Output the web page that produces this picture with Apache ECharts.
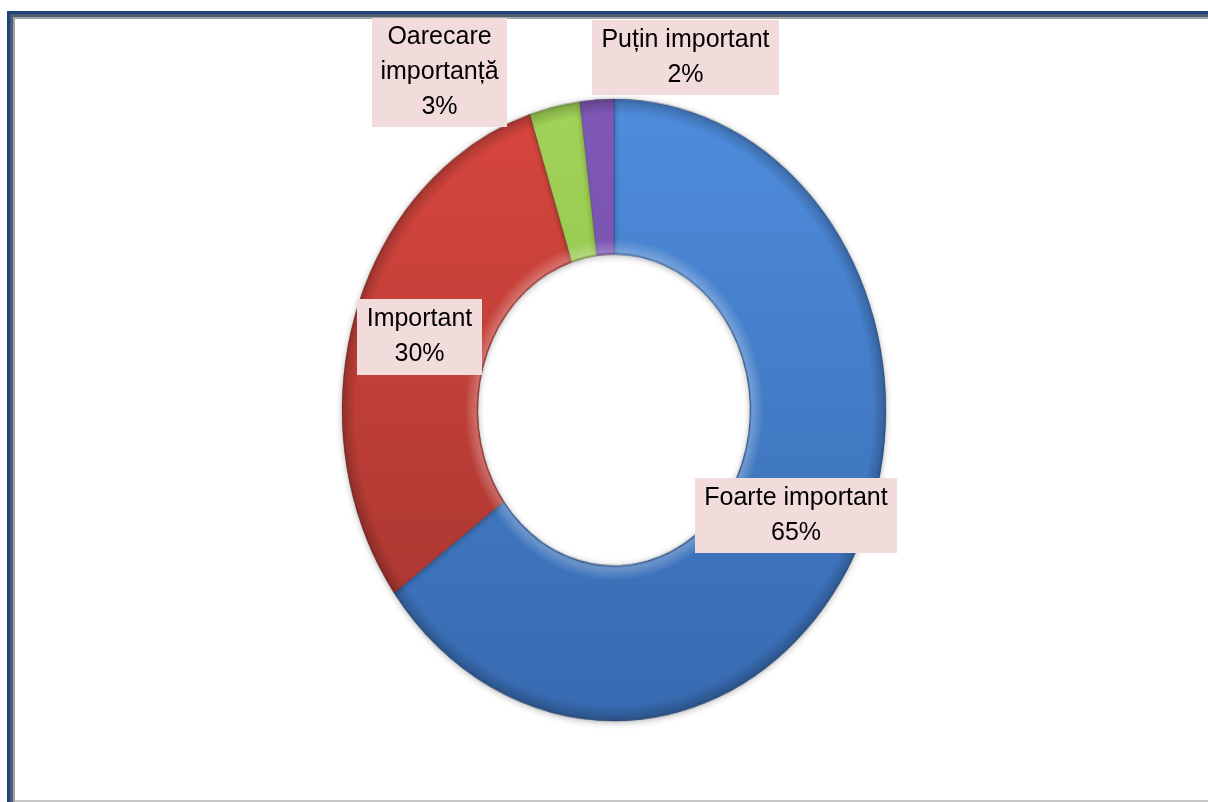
<!DOCTYPE html>
<html>
<head>
<meta charset="utf-8">
<script src="https://cdn.jsdelivr.net/npm/echarts@6/dist/echarts.min.js"></script>
<style>
  html, body { margin: 0; padding: 0; background: #ffffff; }
  #wrap { position: relative; width: 1208px; height: 802px; overflow: hidden; }
  #pie { position: absolute; left: 0; top: 0; width: 1208px; height: 802px;
         transform: scaleY(1.1434); transform-origin: 614px 410px; }
  #labels { position: absolute; left: 0; top: 0; width: 1208px; height: 802px; }
</style>
</head>
<body>
<div id="wrap">
  <div id="pie"></div>
  <div id="labels"></div>
</div>
<script>
// ---- data ----
const categories = ['Foarte important', 'Important', 'Oarecare importanță', 'Puțin important'];
const labelTexts = ['Foarte important', 'Important', 'Oarecare\nimportanță', 'Puțin important'];
const values = [65, 30, 3, 2];

// ---- styles ----
const topColors = ['#4f8ddc', '#d8473f', '#a2d458', '#8059b8'];
const bottomColors = ['#376ab0', '#a3352f', '#86b443', '#6a479f'];
const CX = 614, CY = 410, R_IN = 136, R_OUT = 272;

// label box layout (pixel boxes)
const labelBoxes = [
  { x: 695, y: 478, w: 202, h: 75 },
  { x: 357, y: 299, w: 125, h: 76 },
  { x: 372, y: 18, w: 135, h: 109 },
  { x: 592, y: 20, w: 187, h: 75 }
];

function sliceGradient(i) {
  return {
    type: 'linear', x: 0, y: CY - R_OUT, x2: 0, y2: CY + R_OUT, global: true,
    colorStops: [
      { offset: 0, color: topColors[i] },
      { offset: 1, color: bottomColors[i] }
    ]
  };
}

const pieData = categories.map((name, i) => ({
  name, value: values[i],
  itemStyle: { color: sliceGradient(i) }
}));

const pieChart = echarts.init(document.getElementById('pie'), null, { renderer: 'canvas' });
pieChart.setOption({
  animation: false,
  series: [
    {
      type: 'pie',
      center: [CX, CY],
      radius: [R_IN, R_OUT],
      startAngle: 90,
      clockwise: true,
      silent: true,
      label: { show: false },
      labelLine: { show: false },
      itemStyle: {
        borderColor: 'rgba(0,0,0,0.2)', borderWidth: 0.8,
        shadowBlur: 6, shadowColor: 'rgba(0,0,0,0.3)', shadowOffsetY: 1
      },
      data: pieData
    },
    {
      type: 'pie',
      center: [CX, CY],
      radius: [R_IN, R_OUT],
      startAngle: 90,
      clockwise: true,
      silent: true,
      label: { show: false },
      labelLine: { show: false },
      itemStyle: {
        borderWidth: 0,
        color: {
          type: 'radial', x: CX, y: CY, r: R_OUT, global: true,
          colorStops: [
            { offset: 0, color: 'rgba(0,0,0,0.25)' },
            { offset: 0.5, color: 'rgba(0,0,0,0.25)' },
            { offset: 0.507, color: 'rgba(255,255,255,0.25)' },
            { offset: 0.55, color: 'rgba(255,255,255,0)' },
            { offset: 0.95, color: 'rgba(0,0,0,0)' },
            { offset: 0.99, color: 'rgba(0,0,0,0.18)' },
            { offset: 1, color: 'rgba(0,0,0,0.3)' }
          ]
        }
      },
      data: values.map((v, i) => ({ name: categories[i], value: v }))
    }
  ]
});

// labels and frame (unstretched layer)
const labelChart = echarts.init(document.getElementById('labels'), null, { renderer: 'canvas' });
const graphics = [
  // frame
  { type: 'rect', shape: { x: 7, y: 11, width: 1201, height: 4 }, style: { fill: '#1f4479' }, silent: true },
  { type: 'rect', shape: { x: 7, y: 11, width: 4, height: 791 }, style: { fill: '#1f4479' }, silent: true },
  { type: 'rect', shape: { x: 11, y: 14, width: 1197, height: 3 }, style: { fill: '#4d5d73' }, silent: true },
  { type: 'rect', shape: { x: 10, y: 14, width: 3, height: 788 }, style: { fill: '#4d5d73' }, silent: true },
  { type: 'rect', shape: { x: 13, y: 17, width: 1195, height: 2 }, style: { fill: '#a3a3a3' }, silent: true },
  { type: 'rect', shape: { x: 13, y: 17, width: 2, height: 785 }, style: { fill: '#a3a3a3' }, silent: true },
  { type: 'rect', shape: { x: 15, y: 800, width: 1193, height: 2 }, style: { fill: '#c8c8c8' }, silent: true }
];
labelTexts.forEach((txt, i) => {
  const B = labelBoxes[i];
  graphics.push({
    type: 'rect', silent: true,
    shape: { x: B.x, y: B.y, width: B.w, height: B.h },
    style: { fill: '#f2dcdb' }
  });
  graphics.push({
    type: 'text',
    x: B.x + B.w / 2, y: B.y + B.h / 2,
    silent: true,
    style: {
      text: txt + '\n' + values[i] + '%',
      align: 'center',
      verticalAlign: 'middle',
      fontFamily: 'Liberation Sans, Arial, sans-serif',
      fontSize: 25,
      lineHeight: 35,
      fill: '#000000'
    }
  });
});
labelChart.setOption({ animation: false, graphic: graphics });
</script>
</body>
</html>
